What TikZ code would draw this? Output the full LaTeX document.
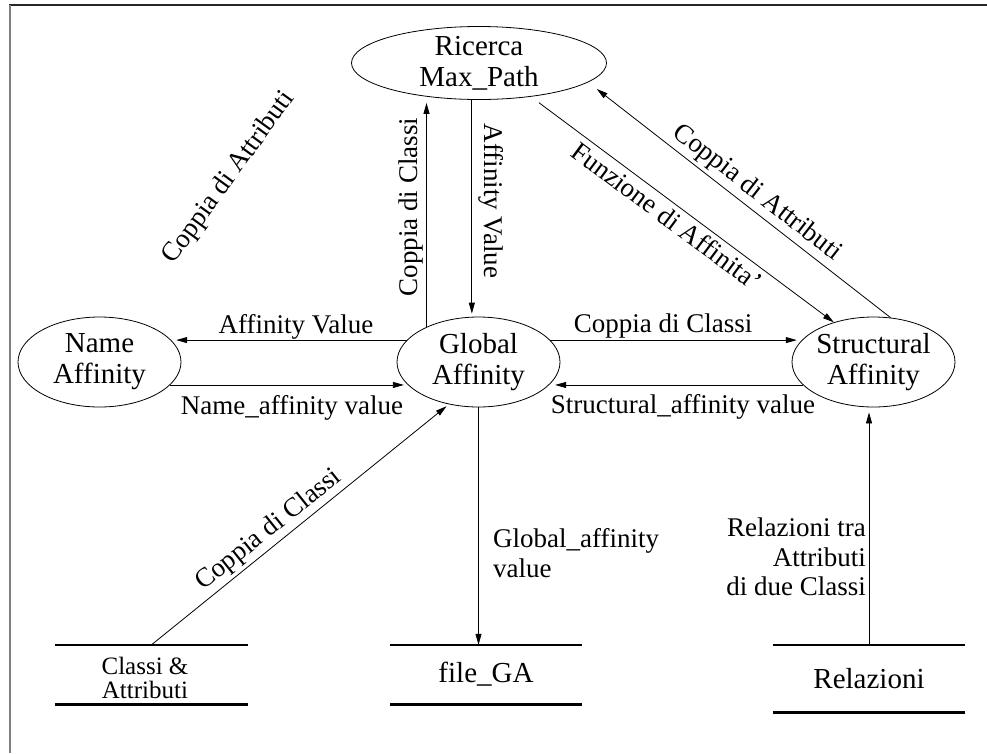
\documentclass[tikz,border=0pt]{standalone}
\usepackage{fontspec}
\setmainfont{Liberation Serif}
\usetikzlibrary{shapes.geometric,arrows.meta}

\begin{document}
\begin{tikzpicture}[x=1pt,y=-1pt,
  bubble/.style={ellipse,draw,line width=0.8pt,inner sep=0pt},
  proc/.style={bubble,minimum width=163pt,minimum height=90pt},
  nodetxt/.style={font=\fontsize{29}{31}\selectfont,align=center,inner sep=0pt},
  lab/.style={font=\fontsize{27}{29.5}\selectfont,inner sep=0pt},
  store/.style={inner sep=0pt,font=\fontsize{29}{31}\selectfont,align=center},
  bar/.style={line width=2.6pt},
  flow/.style={line width=0.8pt,-{Triangle[length=11pt,width=6pt]}},
]
\useasboundingbox (0,0) rectangle (987,753);

% frame edges
\draw[line width=1.8pt, black!85] (9,5) -- (987,5);
\draw[line width=1.8pt, black!50] (10,5) -- (10,753);

% processes
\node[bubble,minimum width=255pt,minimum height=73pt] (R) at (479,63) {};
\node[nodetxt] (Rt) at (R) {Ricerca\\Max\_Path};
\node[proc] (N) at (99.5,362) {};
\node[nodetxt] (Nt) at (N) {Name\\Affinity};
\node[proc] (G) at (478.5,362) {};
\node[nodetxt] (Gt) at (G) {Global\\Affinity};
\node[proc] (S) at (873.5,362) {};
\node[nodetxt] (St) at (S) {Structural\\Affinity};

% data stores
\node[store,minimum width=193pt,minimum height=59pt] (C) at (151.5,674.5) {};
\node[font=\fontsize{25}{23.3}\selectfont,align=center,inner sep=0pt] (Ct) at (145,678) {Classi \&\\Attributi};
\node[store,minimum width=192pt,minimum height=59pt] (F) at (486,674.5) {file\_GA};
\node[store,minimum width=192pt,minimum height=67pt] (Rel) at (869,678.5) {Relazioni};
\foreach \s in {C,F,Rel}{
  \draw[bar] (\s.north west) -- (\s.north east);
  \draw[bar] (\s.south west) -- (\s.south east);
}

% flows
\draw[flow,shorten >=3pt] (G.146) -- (G.146 |- R.south);
\draw[flow,shorten >=3pt] (R.259) -- (R.259 |- G.north);
\draw[flow,shorten <=10pt] (R.-33) -- (S.135);
\draw[flow,shorten >=11pt] (S.69) -- (R.-10);
\draw[flow,shorten >=5pt] (G.163) -- (N.17);
\draw[flow,shorten >=4pt] (N.-18) -- (G.198);
\draw[flow,shorten >=5pt] (G.17) -- (S.163);
\draw[flow,shorten >=6pt] (S.198) -- (G.-18);
\draw[flow,shorten >=3pt] (C.north) -- (G.235);
\draw[flow] (G.south) -- (G.south |- F.north);
\draw[flow,shorten >=5pt] (Rel.north) -- (Rel.north |- S.south);

% flow labels
\node[lab,rotate=90] (l1) at (411,207) {Coppia di Classi};
\node[lab,rotate=-90] (l2) at (491,201) {Affinity Value};
\node[lab,rotate=-36.7] (l3) at (667,216) {Funzione di Affinita'};
\node[lab,rotate=-37.9] (l4) at (757,193) {Coppia di Attributi};
\node[lab,rotate=54] (l5) at (229,178) {Coppia di Attributi};
\node[lab] (l6) at (296,327) {Affinity Value};
\node[lab] (l7) at (292,408) {Name\_affinity value};
\node[lab] (l8) at (663,326) {Coppia di Classi};
\node[lab] (l9) at (683,407) {Structural\_affinity value};
\node[lab,rotate=38.6] (l10) at (269,530) {Coppia di Classi};
\node[lab,align=left,anchor=west] (l11) at (493,553) {Global\_affinity\\value};
\node[lab,align=right,anchor=east] (l12) at (866,557) {Relazioni tra\\Attributi\\di due Classi};
\end{tikzpicture}
\end{document}
